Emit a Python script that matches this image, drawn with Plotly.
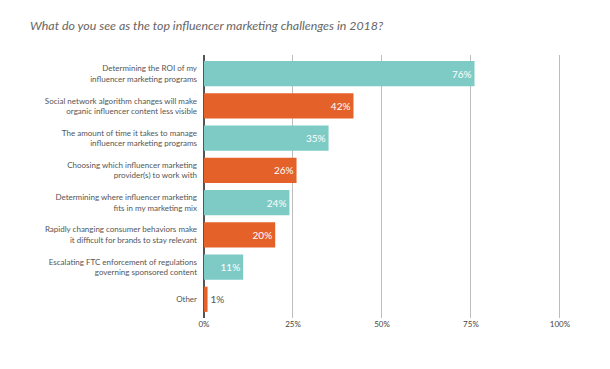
import plotly.graph_objects as go

categories = [
    "Determining the ROI of my<br>influencer marketing programs",
    "Social network algorithm changes will make<br>organic influencer content less visible",
    "The amount of time it takes to manage<br>influencer marketing programs",
    "Choosing which influencer marketing<br>provider(s) to work with",
    "Determining where influencer marketing<br>fits in my marketing mix",
    "Rapidly changing consumer behaviors make<br>it difficult for brands to stay relevant",
    "Escalating FTC enforcement of regulations<br>governing sponsored content",
    "Other",
]
values = [76, 42, 35, 26, 24, 20, 11, 1]
bar_colors = ["#7ECBC6", "#E4622A", "#7ECBC6", "#E4622A", "#7ECBC6", "#E4622A", "#7ECBC6", "#E4622A"]
tick_vals = [0, 25, 50, 75, 100]
tick_text = ["0%", "25%", "50%", "75%", "100%"]
title = "What do you see as the top influencer marketing challenges in 2018?"

labels = [f"{v}%" for v in values]
positions = ["inside" if v > 5 else "outside" for v in values]
text_colors = ["white" if v > 5 else "#555555" for v in values]

fig = go.Figure(go.Bar(
    x=values,
    y=categories,
    orientation="h",
    marker=dict(color=bar_colors, line=dict(width=0)),
    width=0.78,
    text=labels,
    textposition=positions,
    insidetextanchor="end",
    textfont=dict(family="Lato", size=10, color=text_colors),
    cliponaxis=False,
))

fig.update_layout(
    width=610, height=369,
    margin=dict(l=196, r=57, t=47, b=59),
    paper_bgcolor="white", plot_bgcolor="white",
    showlegend=False,
    title=dict(text=title, x=0.036, xanchor="left", y=0.951, yanchor="middle",
               font=dict(family="Lato", size=12.4, color="#666666", style="italic")),
    xaxis=dict(range=[0, 100.3], tickvals=tick_vals, ticktext=tick_text,
               showgrid=True, gridcolor="#BDBDBD", gridwidth=1,
               zeroline=True, zerolinecolor="#555555", zerolinewidth=1.5,
               showline=False, ticks="",
               tickfont=dict(family="Lato", size=8, color="#444444")),
    yaxis=dict(range=[7.58, -0.58], showgrid=False, showline=False, ticks="",
               ticklabelstandoff=6,
               tickfont=dict(family="Lato", size=8, color="#555555")),
)

fig.write_html("out.html")
